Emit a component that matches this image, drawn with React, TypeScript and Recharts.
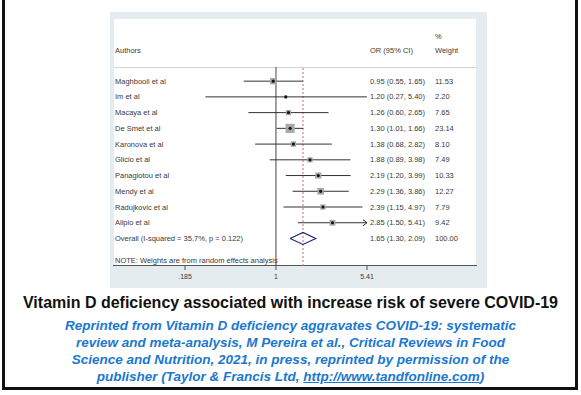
import React from "react";
import {
  ErrorBar,
  ReferenceLine,
  Scatter,
  ScatterChart,
  XAxis,
  YAxis,
} from "recharts";

const authors = [
  "Maghbooli et al",
  "Im et al",
  "Macaya et al",
  "De Smet et al",
  "Karonova et al",
  "Glicio et al",
  "Panagiotou  et al",
  "Mendy et al",
  "Radujkovic et al",
  "Alipio et al",
];
const oddsRatio = [0.95, 1.2, 1.26, 1.3, 1.38, 1.88, 2.19, 2.29, 2.39, 2.85];
const ciLow = [0.55, 0.27, 0.6, 1.01, 0.68, 0.89, 1.2, 1.36, 1.15, 1.5];
const ciHigh = [1.65, 5.4, 2.65, 1.66, 2.82, 3.98, 3.99, 3.86, 4.97, 5.41];
const weights = [11.53, 2.2, 7.65, 23.14, 8.1, 7.49, 10.33, 12.27, 7.79, 9.42];

const overallLabel = "Overall  (I-squared = 35.7%, p = 0.122)";
const overall = { or: 1.65, lo: 1.3, hi: 2.09, weight: 100.0 };

const xTicks = [0.185, 1, 5.41];
const xTickLabels = [".185", "1", "5.41"];

const studies = authors.map((a, i) => ({
  x: oddsRatio[i],
  row: i,
  err: [oddsRatio[i] - ciLow[i], ciHigh[i] - oddsRatio[i]],
  weight: weights[i],
}));
const clipped = studies
  .filter((_, i) => ciHigh[i] >= xTicks[2])
  .map((s) => ({ x: xTicks[2], row: s.row }));
const diamond = [
  { x: overall.lo, row: 10 },
  { x: overall.or, row: 9.62 },
  { x: overall.hi, row: 10 },
  { x: overall.or, row: 10.38 },
  { x: overall.lo, row: 10 },
];

const rowTicks = Array.from({ length: 11 }, (_, i) => i);
const fmt = (v: number) => v.toFixed(2);
const leftLabel = (i: number) => (i < 10 ? authors[i] : overallLabel);
const rightLabel = (i: number) =>
  i < 10
    ? [`${fmt(oddsRatio[i])} (${fmt(ciLow[i])}, ${fmt(ciHigh[i])})`, fmt(weights[i])]
    : [`${fmt(overall.or)} (${fmt(overall.lo)}, ${fmt(overall.hi)})`, fmt(overall.weight)];

const small = { fontFamily: "Liberation Sans, Arial, sans-serif", fontSize: 7.5, fill: "#3a3a3a" };

// one tick draws the author on the left and the OR / weight columns on the right
const RowTick = (p: any) => {
  const i = p.payload.value;
  const [ci, w] = rightLabel(i);
  return (
    <g>
      <text x={5} y={p.y} dy={2.6} textAnchor="start" {...small}>
        {leftLabel(i)}
      </text>
      <text x={260} y={p.y} dy={2.6} textAnchor="start" {...small}>
        {ci}
      </text>
      <text x={325} y={p.y} dy={2.6} textAnchor="start" {...small}>
        {w}
      </text>
    </g>
  );
};

const BoxShape = (p: any) => {
  const s = 1.9 * Math.sqrt(p.payload.weight);
  return (
    <g>
      <rect x={p.cx - s / 2} y={p.cy - s / 2} width={s} height={s} fill="#a8a8a8" />
      <circle cx={p.cx} cy={p.cy} r={1.6} fill="#151515" />
    </g>
  );
};
const ArrowShape = (p: any) => (
  <path
    d={`M${p.cx - 4},${p.cy - 3}L${p.cx},${p.cy}L${p.cx - 4},${p.cy + 3}`}
    stroke="#333"
    fill="none"
    strokeWidth={1}
  />
);
const NoShape = () => <g />;

const headText: React.CSSProperties = {
  position: "absolute",
  fontFamily: "Liberation Sans, Arial, sans-serif",
  fontSize: 7.5,
  color: "#3a3a3a",
  lineHeight: "9px",
  whiteSpace: "nowrap",
};

const blueLines = [
  "Reprinted from Vitamin D deficiency aggravates COVID-19: systematic",
  "review and meta-analysis, M Pereira et al., Critical Reviews in Food",
  "Science and Nutrition, 2021, in press, reprinted by permission of the",
];

export default function App() {
  return (
    <div
      style={{
        position: "absolute",
        left: 0,
        top: 0,
        width: 581,
        height: 395,
        background: "#fff",
        overflow: "hidden",
      }}
    >
      <div
        style={{
          position: "absolute",
          left: 2,
          top: -4,
          width: 576,
          height: 394,
          border: "3px solid #111",
          boxSizing: "border-box",
        }}
      />
      {/* chart panel */}
      <div style={{ position: "absolute", left: 110, top: 12, width: 377, height: 276, background: "#e5ecf0" }} />
      <div style={{ position: "absolute", left: 114, top: 19, width: 362, height: 247, background: "#fff" }} />
      <div style={{ position: "absolute", left: 114, top: 67, width: 362, height: 1, background: "#d4d4d4" }} />
      <div style={{ position: "absolute", left: 113, top: 265, width: 364, height: 1, background: "#555" }} />
      <div style={{ ...headText, left: 115, top: 46 }}>Authors</div>
      <div style={{ ...headText, left: 370, top: 46 }}>OR (95% CI)</div>
      <div style={{ ...headText, left: 435, top: 32 }}>%</div>
      <div style={{ ...headText, left: 435, top: 46 }}>Weight</div>
      <div style={{ ...headText, left: 115, top: 256 }}>NOTE: Weights are from random effects analysis</div>
      <div style={{ position: "absolute", left: 110, top: 12 }}>
        <ScatterChart width={377} height={276} margin={{ top: 55, right: 120, bottom: 0, left: 0 }}>
          <XAxis
            dataKey="x"
            type="number"
            scale="log"
            domain={[xTicks[0], xTicks[2]]}
            ticks={xTicks}
            allowDataOverflow
            height={22}
            axisLine={false}
            tickLine={{ stroke: "#555" }}
            tickSize={4}
            tickMargin={4}
            tick={{ ...small, fontSize: 7 }}
            tickFormatter={(v: number) => xTickLabels[xTicks.indexOf(v)] ?? String(v)}
          />
          <YAxis
            dataKey="row"
            type="number"
            reversed
            domain={[-0.9, 11.75]}
            ticks={rowTicks}
            interval={0}
            width={75}
            axisLine={false}
            tickLine={false}
            tick={RowTick}
          />
          <ReferenceLine x={1} stroke="#444" strokeWidth={1} />
          <ReferenceLine x={overall.or} stroke="#c07070" strokeDasharray="2 2" strokeWidth={1} />
          <Scatter data={studies} shape={BoxShape} isAnimationActive={false}>
            <ErrorBar dataKey="err" direction="x" width={0} stroke="#333" strokeWidth={1} isAnimationActive={false} />
          </Scatter>
          <Scatter data={clipped} shape={ArrowShape} isAnimationActive={false} />
          <Scatter
            data={diamond}
            shape={NoShape}
            line={{ stroke: "#1c2a78", strokeWidth: 1.2 }}
            isAnimationActive={false}
          />
        </ScatterChart>
      </div>
      {/* captions */}
      <div
        style={{
          position: "absolute",
          left: 0,
          top: 293,
          width: 581,
          textAlign: "center",
          fontFamily: "Liberation Sans, Arial, sans-serif",
          fontWeight: "bold",
          fontSize: 16,
          color: "#111",
          lineHeight: "20px",
        }}
      >
        Vitamin D deficiency associated with increase risk of severe COVID-19
      </div>
      <div
        style={{
          position: "absolute",
          left: 0,
          top: 317,
          width: 581,
          textAlign: "center",
          fontFamily: "Liberation Sans, Arial, sans-serif",
          fontWeight: "bold",
          fontStyle: "italic",
          fontSize: 13.5,
          color: "#1b78cf",
          lineHeight: "17px",
        }}
      >
        {blueLines.map((l) => (
          <div key={l}>{l}</div>
        ))}
        <div>
          publisher (Taylor &amp; Francis Ltd, <span style={{ textDecoration: "underline" }}>http://www.tandfonline.com</span>)
        </div>
      </div>
    </div>
  );
}
